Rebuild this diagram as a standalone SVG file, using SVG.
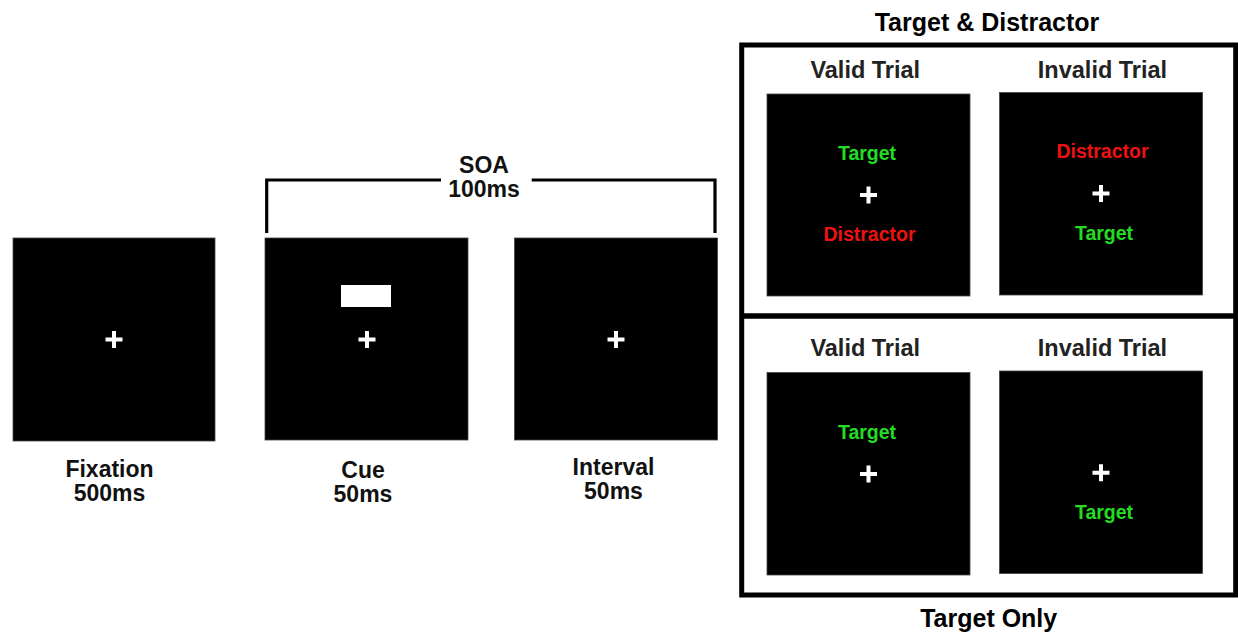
<svg xmlns="http://www.w3.org/2000/svg" xmlns:xlink="http://www.w3.org/1999/xlink" width="1238" height="634" viewBox="0 0 1238 634">
<style>
text{font-family:"Liberation Sans",Arial,sans-serif;font-weight:bold;text-anchor:middle}
.lbl{font-size:23px;fill:#111}
.hdr{font-size:25px;fill:#000}
.trial{font-size:23.5px;fill:#222}
.tg{font-size:19.5px;fill:#22dd22}
.ds{font-size:19.5px;fill:#ee1111}
.scr{fill:#000;stroke:#444;stroke-width:0.8}
.br{fill:none;stroke:#000;stroke-width:3.2}
.frame{fill:none;stroke:#000;stroke-width:5}
</style>
<defs>
<path id="cross" d="M-2,-8.5 H2 V-2 H8.5 V2 H2 V8.5 H-2 V2 H-8.5 V-2 H-2 Z" fill="#fff"/>
</defs>
<rect width="1238" height="634" fill="#fff"/>

<g id="connectors">
<path class="br" d="M266.7,233 V180 H441"/>
<path class="br" d="M531.7,180 H715 V233"/>
</g>

<g id="soa">
<text class="lbl" x="484" y="173">SOA</text>
<text class="lbl" x="484" y="197">100ms</text>
</g>

<g id="fixation">
<rect class="scr" x="13" y="238" width="202" height="203"/>
<use xlink:href="#cross" x="114" y="339.5"/>
<text class="lbl" x="109.5" y="476.5">Fixation</text>
<text class="lbl" x="109.5" y="500.5">500ms</text>
</g>

<g id="cue">
<rect class="scr" x="265" y="238" width="203" height="202"/>
<rect x="341" y="285" width="50" height="22" fill="#fff"/>
<use xlink:href="#cross" x="367" y="339.5"/>
<text class="lbl" x="363" y="477.5">Cue</text>
<text class="lbl" x="363" y="501.5">50ms</text>
</g>

<g id="interval">
<rect class="scr" x="514.5" y="238" width="203" height="202"/>
<use xlink:href="#cross" x="616" y="339.5"/>
<text class="lbl" x="613.5" y="475">Interval</text>
<text class="lbl" x="613.5" y="499">50ms</text>
</g>

<g id="panel-frame">
<text class="hdr" x="987" y="31">Target &amp; Distractor</text>
<rect class="frame" x="741.7" y="45" width="494" height="550"/>
<line x1="741.7" y1="316" x2="1235.7" y2="316" stroke="#000" stroke-width="5.5"/>
<text class="hdr" x="988.7" y="626.5">Target Only</text>
</g>

<g id="td-valid">
<text class="trial" x="865.3" y="77.5">Valid Trial</text>
<rect class="scr" x="767" y="94" width="203" height="202"/>
<text class="tg" x="867" y="160">Target</text>
<use xlink:href="#cross" x="868.5" y="195"/>
<text class="ds" x="869.5" y="241">Distractor</text>
</g>

<g id="td-invalid">
<text class="trial" x="1102.5" y="77.5">Invalid Trial</text>
<rect class="scr" x="999.5" y="92.5" width="203" height="202.5"/>
<text class="ds" x="1102.5" y="157.5">Distractor</text>
<use xlink:href="#cross" x="1101" y="193.5"/>
<text class="tg" x="1104" y="239.5">Target</text>
</g>

<g id="to-valid">
<text class="trial" x="865.3" y="355.7">Valid Trial</text>
<rect class="scr" x="767" y="372.5" width="203" height="202.5"/>
<text class="tg" x="867" y="438.5">Target</text>
<use xlink:href="#cross" x="868.5" y="474"/>
</g>

<g id="to-invalid">
<text class="trial" x="1102.5" y="355.7">Invalid Trial</text>
<rect class="scr" x="999.5" y="371" width="203" height="202.5"/>
<use xlink:href="#cross" x="1101" y="472.7"/>
<text class="tg" x="1104" y="518.5">Target</text>
</g>
</svg>
